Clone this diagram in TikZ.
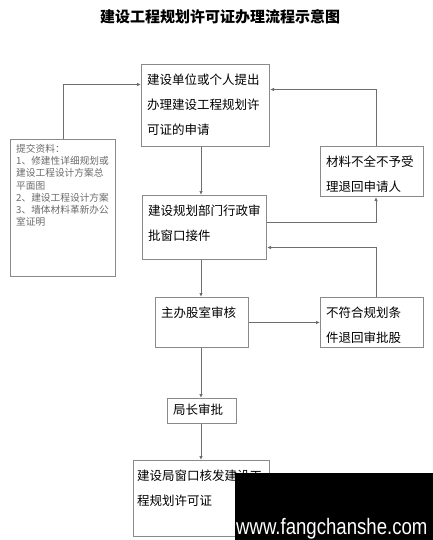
\documentclass[tikz,border=0pt]{standalone}
\usepackage{fontspec}
\setmainfont{Noto Sans CJK SC}
\newfontfamily\markfont{Liberation Sans}
\usetikzlibrary{arrows.meta,positioning}
\definecolor{boxgray}{HTML}{8A8A8A}
\definecolor{linegray}{HTML}{6E6E6E}
\definecolor{docgray}{HTML}{6A6A6A}
\tikzset{
  stepbox/.style={draw=boxgray, line width=1pt, inner sep=0pt, anchor=north west},
  boxtext/.style={inner sep=0pt, anchor=north west, align=left, xshift=6pt, yshift=-10pt,
    font=\fontsize{12.5}{25}\selectfont},
  doctext/.style={inner sep=0pt, anchor=north west, align=left, xshift=6pt, yshift=-5pt,
    text=docgray, font=\fontsize{9.7}{12.2}\selectfont},
  flow/.style={draw=linegray, line width=1pt, -{Latex[length=4pt,width=3.5pt]}},
}

\begin{document}
\begin{tikzpicture}[x=1pt,y=-1pt]
    \useasboundingbox (0,0) rectangle (433,540);
    \node[font=\bfseries\fontsize{15}{16}\selectfont] (title) at (220,17) {建设工程规划许可证办理流程示意图};

    \node[stepbox, minimum width=105pt, minimum height=137pt] (docs) at (10,139) {};
    \node[doctext] (docstxt) at (docs.north west) {提交资料：\\1、修建性详细规划或\\建设工程设计方案总\\平面图\\2、建设工程设计方案\\3、墙体材料革新办公\\室证明};

    \node[stepbox, minimum width=128pt, minimum height=82pt] (apply) at (141,64) {};
    \node[boxtext] (applytxt) at (apply.north west) {建设单位或个人提出\\办理建设工程规划许\\可证的申请};

    \node[stepbox, minimum width=103pt, minimum height=50pt] (reject) at (320,146) {};
    \node[boxtext] (rejecttxt) at (reject.north west) {材料不全不予受\\理退回申请人};

    \node[stepbox, minimum width=124pt, minimum height=64pt] (review) at (142,195) {};
    \node[boxtext] (reviewtxt) at (review.north west) {建设规划部门行政审\\批窗口接件};

    \node[stepbox, minimum width=93pt, minimum height=50pt] (office) at (155,297) {};
    \node[boxtext] (officetxt) at (office.north west) {主办股室审核};

    \node[stepbox, minimum width=103pt, minimum height=50pt] (return) at (320,297) {};
    \node[boxtext] (returntxt) at (return.north west) {不符合规划条\\件退回审批股};

    \node[stepbox, minimum width=69pt, minimum height=25pt] (chief) at (167,398) {};
    \node[boxtext, yshift=4pt] (chieftxt) at (chief.north west) {局长审批};

    \node[stepbox, minimum width=136pt, minimum height=76pt] (permit) at (133,460) {};
    \node[boxtext, xshift=-2pt] (permittxt) at (permit.north west) {建设局窗口核发建设工\\程规划许可证};

    \coordinate (spine) at (201,0);
    \draw[flow] (docs.north) |- ([yshift=21pt]apply.west);
    \draw[flow] (apply.south -| spine) -- (review.north -| spine);
    \draw[flow] ([yshift=5pt]review.east) -| ([xshift=4pt]reject.south);
    \draw[flow] ([xshift=4pt]reject.north) |- ([yshift=16pt]apply.east);
    \draw[flow] (review.south -| spine) -- (office.north -| spine);
    \draw[flow] (office.east) -- (return.west);
    \draw[flow] ([xshift=4pt]return.north) |- ([yshift=-20pt]review.east);
    \draw[flow] (office.south -| spine) -- (chief.north -| spine);
    \draw[flow] (chief.south -| spine) -- (permit.north -| spine);

    \fill[black] (235,473) rectangle (433,540);
    \node[inner sep=0pt, anchor=base west, text=white, font=\markfont\fontsize{18.6}{19}\selectfont] (mark) at (236,534) {\scalebox{1}[1.2]{www.fangchanshe.com}};
\end{tikzpicture}
\end{document}
